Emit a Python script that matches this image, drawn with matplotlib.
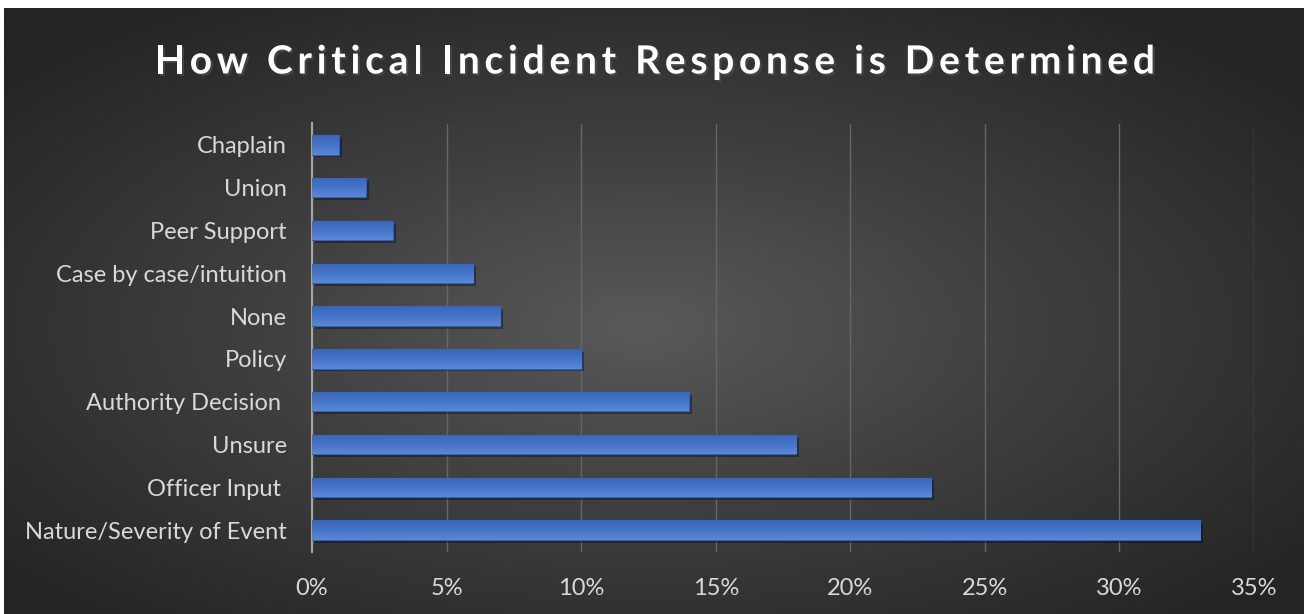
import numpy as np
import matplotlib

matplotlib.use("Agg")
import matplotlib.pyplot as plt
import matplotlib.patheffects as pe
from matplotlib.colors import LinearSegmentedColormap
from matplotlib.ticker import PercentFormatter

categories = [
    "Chaplain",
    "Union",
    "Peer Support",
    "Case by case/intuition",
    "None",
    "Policy",
    "Authority Decision ",
    "Unsure",
    "Officer Input ",
    "Nature/Severity of Event",
]
shares = [1, 2, 3, 6, 7, 10, 14, 18, 23, 33]
xticks = [0, 5, 10, 15, 20, 25, 30, 35]
title = "How Critical Incident Response is Determined"

plt.rcParams["font.family"] = ["Lato", "DejaVu Sans"]

fig = plt.figure(figsize=(13.07, 6.14), dpi=100)
fig.patch.set_facecolor("white")

# radial dark-grey backdrop
bg = fig.add_axes([4 / 1307, 0, 1300 / 1307, 606 / 614])
bg.set_axis_off()
yy, xx = np.mgrid[-1:1:300j, -1:1:600j]
r = np.sqrt(((xx + 0.02) / 1.0) ** 2 + ((yy - 0.05) / 1.0) ** 2)
bg.imshow(np.clip(r, 0, 1.3), cmap=LinearSegmentedColormap.from_list(
    "bg", ["#595959", "#3d3d3d", "#242424"]), vmin=0, vmax=1.3, aspect="auto",
    extent=[0, 1, 0, 1], zorder=0)
bg.set_xlim(0, 1)
bg.set_ylim(0, 1)

ax = fig.add_axes([312 / 1307, 62.5 / 614, 942 / 1307, 428 / 614])
ax.set_facecolor("none")
y = np.arange(len(categories))
bars = ax.barh(y, shares, height=0.45, color="#4472C4", edgecolor="#3560b0", linewidth=0.8, zorder=3)
shade = LinearSegmentedColormap.from_list("bar", ["#5a88d8", "#4574c8", "#3a66b8"])
grad = np.linspace(0, 1, 64).reshape(-1, 1)
for b in bars:
    b.set_path_effects([pe.SimplePatchShadow(offset=(2, -2), shadow_rgbFace="black", alpha=0.35), pe.Normal()])
    x0, y0 = b.get_x(), b.get_y()
    im = ax.imshow(grad, cmap=shade, aspect="auto", zorder=3.5,
                   extent=[x0, x0 + b.get_width(), y0, y0 + b.get_height()])
    im.set_clip_path(b)

ax.set_ylim(-0.5, len(categories) - 0.5)
ax.invert_yaxis()
ax.set_xlim(0, 35)
ax.set_xticks(xticks)
ax.xaxis.set_major_formatter(PercentFormatter(decimals=0))
ax.set_yticks(y, categories)
ax.tick_params(axis="y", length=0, pad=18, labelsize=17, labelcolor="#d9d9d9")
ax.tick_params(axis="x", length=0, pad=19, labelsize=17, labelcolor="#d9d9d9")
ax.grid(axis="x", color="#666666", lw=1, zorder=0)
for side in ["top", "right", "bottom"]:
    ax.spines[side].set_visible(False)
ax.spines["left"].set_color("#a6a6a6")
ax.spines["left"].set_linewidth(1.5)

# title with extra letter spacing, one glyph at a time
tkw = dict(fontsize=28, fontweight="bold", color="white", va="center",
           path_effects=[pe.SimplePatchShadow(offset=(1.5, -1.5), alpha=0.7), pe.Normal()])
renderer = fig.canvas.get_renderer()


def text_width(s):
    if not s:
        return 0.0
    t = fig.text(0, 0, s.replace(" ", "\u00a0"), **tkw)
    w = t.get_window_extent(renderer).width
    t.remove()
    return w


full = text_width(title)
spacing = (1000 - full) / (len(title) - 1)
left = 655 - 1000 / 2
for i, ch in enumerate(title):
    if ch == " ":
        continue
    xpix = left + text_width(title[:i]) + i * spacing
    fig.text(xpix / 1307, 1 - 62 / 614, ch, ha="left", **tkw)

fig.savefig("out.png", dpi=100, facecolor=fig.get_facecolor())
